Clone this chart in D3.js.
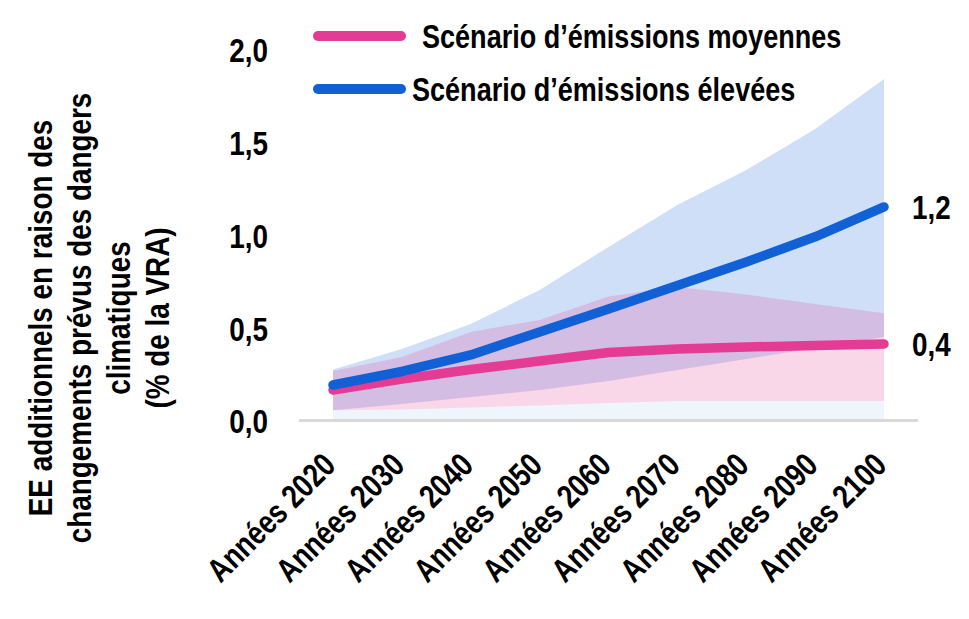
<!DOCTYPE html>
<html>
<head>
<meta charset="utf-8">
<script src="https://cdn.jsdelivr.net/npm/d3@7"></script>
<style>
  html, body { margin: 0; padding: 0; background: #fff; }
  svg text { font-family: "Liberation Sans", Arial, sans-serif; font-weight: bold; fill: #000; }
</style>
</head>
<body>
<svg id="chart" width="969" height="619"></svg>
<script>
const categories = ["Années 2020","Années 2030","Années 2040","Années 2050","Années 2060","Années 2070","Années 2080","Années 2090","Années 2100"];
const medLine  = [0.167, 0.226, 0.278, 0.323, 0.369, 0.388, 0.399, 0.407, 0.415];
const medUpper = [0.270, 0.345, 0.480, 0.545, 0.671, 0.722, 0.682, 0.631, 0.581];
const medLower = [0.058, 0.062, 0.073, 0.084, 0.097, 0.108, 0.108, 0.108, 0.108];
const highLine  = [0.194, 0.267, 0.356, 0.480, 0.604, 0.730, 0.857, 0.993, 1.154];
const highUpper = [0.278, 0.388, 0.523, 0.706, 0.938, 1.164, 1.353, 1.574, 1.844];
const highLower = [0.058, 0.092, 0.129, 0.167, 0.216, 0.275, 0.334, 0.394, 0.453];
const yTicks = [0, 0.5, 1.0, 1.5, 2.0];
const endLabels = ["1,2", "0,4"];
const legendLabels = ["Scénario d’émissions moyennes", "Scénario d’émissions élevées"];
const yTitleLines = ["EE additionnels en raison des", "changements prévus des dangers", "climatiques", "(% de la VRA)"];

const pink = "#e43c94", blue = "#1160d6";
const narrow = "scale(0.82,1)";
const svg = d3.select("#chart");
const x = d3.scalePoint().domain(categories).range([333, 884]);
const y = d3.scaleLinear().domain([0, 2]).range([421, 50]);
const fmt = v => d3.format(".1f")(v).replace(".", ",");

const idx = d3.range(categories.length);
const area = (lo, hi) => d3.area().x(i => x(categories[i])).y0(i => y(lo[i])).y1(i => y(hi[i]))(idx);
const line = vals => d3.line().x(i => x(categories[i])).y(i => y(vals[i]))(idx);
const zeros = idx.map(() => 0);
const baseLow = idx.map(i => Math.min(medLower[i], highLower[i]));

// bands
svg.append("path").attr("d", area(zeros, baseLow)).attr("fill", "#eef5fd");
svg.append("path").attr("d", area(highLower, highUpper)).attr("fill", blue).attr("fill-opacity", 0.2);
svg.append("path").attr("d", area(medLower, medUpper)).attr("fill", "rgb(229,76,155)").attr("fill-opacity", 0.23);

// baseline axis
svg.append("line").attr("x1", 299).attr("x2", 918).attr("y1", 420.5).attr("y2", 420.5)
  .attr("stroke", "#d9d9d9").attr("stroke-width", 3);

// lines
svg.append("path").attr("d", line(medLine)).attr("fill", "none").attr("stroke", pink)
  .attr("stroke-width", 9.5).attr("stroke-linecap", "round").attr("stroke-linejoin", "round");
svg.append("path").attr("d", line(highLine)).attr("fill", "none").attr("stroke", blue)
  .attr("stroke-width", 9.5).attr("stroke-linecap", "round").attr("stroke-linejoin", "round");

// end labels
const last = categories.length - 1;
[[highLine, endLabels[0]], [medLine, endLabels[1]]].forEach(([vals, lab]) => {
  svg.append("text").attr("transform", `translate(912,${y(vals[last])}) ${narrow}`)
    .attr("dy", "0.35em").attr("font-size", 34).text(lab);
});

// y axis labels
const yAxis = d3.axisLeft(y).tickValues(yTicks).tickFormat(fmt).tickSize(0).tickPadding(0);
const gy = svg.append("g").attr("transform", "translate(268,0)").call(yAxis);
gy.select(".domain").remove();
gy.selectAll("text").attr("font-size", 34).attr("font-family", null).attr("fill", "#000")
  .attr("dy", "0.35em").attr("transform", narrow);

// x axis labels
const xAxis = d3.axisBottom(x).tickSize(0).tickPadding(0);
const gx = svg.append("g").attr("transform", "translate(0,467)").call(xAxis);
gx.select(".domain").remove();
gx.selectAll("text").attr("font-size", 33).attr("font-family", null).attr("fill", "#000")
  .attr("text-anchor", "end").attr("dy", 0).attr("y", 0)
  .attr("transform", `translate(4,0) rotate(-45) ${narrow}`);

// legend
const legendY = [36, 89], legendTextX = [422, 412];
legendLabels.forEach((lab, i) => {
  svg.append("line").attr("x1", 318).attr("x2", 401).attr("y1", legendY[i]).attr("y2", legendY[i])
    .attr("stroke", i === 0 ? pink : blue).attr("stroke-width", 10).attr("stroke-linecap", "round");
  svg.append("text").attr("transform", `translate(${legendTextX[i]},${legendY[i]}) ${narrow}`)
    .attr("dy", "0.35em").attr("font-size", 33).text(lab);
});

// y title
const yt = svg.append("text").attr("transform", `translate(0,318) rotate(-90) ${narrow}`)
  .attr("text-anchor", "middle").attr("font-size", 34);
const baseX = [52, 91, 130, 169];
yTitleLines.forEach((t, i) => {
  yt.append("tspan").attr("x", 0).attr("y", baseX[i]).text(t);
});
</script>
</body>
</html>
